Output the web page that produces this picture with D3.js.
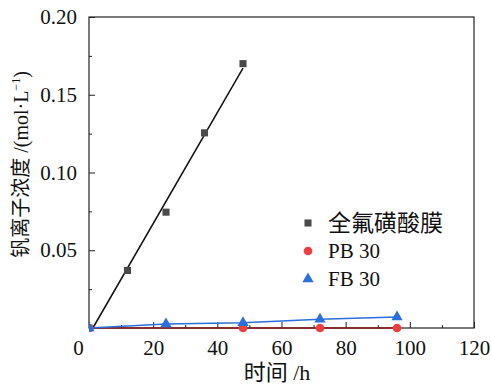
<!DOCTYPE html>
<html>
<head>
<meta charset="utf-8">
<script src="https://cdn.jsdelivr.net/npm/d3@7"></script>
<style>
  body { margin: 0; background: #fff; }
  svg text { font-family: "Liberation Serif", "Noto Sans CJK SC", serif; fill: #111; }
</style>
</head>
<body>
<div id="chart"></div>
<script>
// data
const pfsaHours = [0, 12, 24, 36, 48];
const pfsaConc = [0, 0.037, 0.0745, 0.1255, 0.170];
const pbHours = [0, 48, 72, 96];
const pbConc = [0, 0, 0, 0];
const fbHours = [0, 24, 48, 72, 96];
const fbConc = [0, 0.0026, 0.0034, 0.0056, 0.0071];
const pfsaFit = { slope: 0.003571, intercept: -0.0043, xEnd: 48 };
const seriesNames = ['全氟磺酸膜', 'PB 30', 'FB 30'];
const xTicks = [0, 20, 40, 60, 80, 100, 120];
const yTicks = [0.05, 0.10, 0.15, 0.20];

const W = 491, H = 384;
const margin = { top: 17, right: 17, bottom: 56, left: 89 };
const width = W - margin.left - margin.right;
const height = H - margin.top - margin.bottom;

const svg = d3.select('#chart').append('svg')
  .attr('width', W).attr('height', H);
const g = svg.append('g').attr('transform', `translate(${margin.left},${margin.top})`);

const x = d3.scaleLinear().domain([0, 120]).range([0, width]);
const y = d3.scaleLinear().domain([0, 0.20]).range([height, 0]);

// clip only on the left so points sitting on the x axis stay whole
g.append('defs').append('clipPath').attr('id', 'clip')
  .append('rect').attr('y', -10).attr('width', width + 10).attr('height', height + 20);

// frame
g.append('rect').attr('width', width).attr('height', height)
  .attr('fill', 'none').attr('stroke', '#222').attr('stroke-width', 1.2);

// x axis, inward ticks
const xAxis = g.append('g').attr('transform', `translate(0,${height})`)
  .call(d3.axisBottom(x).tickValues(xTicks).tickSize(-6).tickPadding(12).tickFormat(d3.format('d')));
xAxis.select('.domain').remove();
xAxis.selectAll('text').style('font-size', '21px');
xAxis.selectAll('.tick').filter(d => d === 0).select('text').attr('dx', -11);
g.append('g').attr('transform', `translate(0,${height})`)
  .call(d3.axisBottom(x).tickValues(d3.range(10, 120, 20)).tickSize(-3).tickFormat(''))
  .select('.domain').remove();

// y axis
const yAxis = g.append('g')
  .call(d3.axisLeft(y).tickValues(yTicks).tickSize(-6).tickPadding(12).tickFormat(d3.format('.2f')));
yAxis.select('.domain').remove();
yAxis.selectAll('text').style('font-size', '21px');
g.append('g')
  .call(d3.axisLeft(y).tickValues([0.025, 0.075, 0.125, 0.175]).tickSize(-3).tickFormat(''))
  .select('.domain').remove();
g.selectAll('.tick line').attr('stroke', '#222');

const plot = g.append('g').attr('clip-path', 'url(#clip)');

// PFSA fit line
const x0 = -pfsaFit.intercept / pfsaFit.slope;
plot.append('line')
  .attr('x1', x(x0)).attr('y1', y(0))
  .attr('x2', x(pfsaFit.xEnd)).attr('y2', y(pfsaFit.slope * pfsaFit.xEnd + pfsaFit.intercept))
  .attr('stroke', '#111').attr('stroke-width', 1.5);

const line = d3.line().x(d => x(d[0])).y(d => y(d[1]));
plot.append('path').datum(pbHours.map((h, i) => [h, pbConc[i]]))
  .attr('d', line).attr('fill', 'none').attr('stroke', '#8b1a1a').attr('stroke-width', 1.5);
plot.append('path').datum(fbHours.map((h, i) => [h, fbConc[i]]))
  .attr('d', line).attr('fill', 'none').attr('stroke', '#2a6fdb').attr('stroke-width', 1.5);

const sq = d3.symbol().type(d3.symbolSquare).size(50);
const ci = d3.symbol().type(d3.symbolCircle).size(60);
const tri = d3.symbol().type(d3.symbolTriangle).size(55);

plot.selectAll('.sq').data(pfsaHours.map((h, i) => [h, pfsaConc[i]])).join('path')
  .attr('transform', d => `translate(${x(d[0])},${y(d[1])})`)
  .attr('d', sq).attr('fill', '#4a4a4a');
plot.selectAll('.ci').data(pbHours.map((h, i) => [h, pbConc[i]])).join('path')
  .attr('transform', d => `translate(${x(d[0])},${y(d[1])})`)
  .attr('d', ci).attr('fill', '#ef4040');
plot.selectAll('.tri').data(fbHours.map((h, i) => [h, fbConc[i]])).join('path')
  .attr('transform', d => `translate(${x(d[0])},${y(d[1])})`)
  .attr('d', tri).attr('fill', '#2a6fdb');

// legend
const legend = g.append('g').attr('transform', `translate(${308 - margin.left},${223 - margin.top})`);
const symbols = [sq, ci, tri];
const colors = ['#4a4a4a', '#ef4040', '#2a6fdb'];
seriesNames.forEach((name, i) => {
  const row = legend.append('g').attr('transform', `translate(0,${i * 28})`);
  row.append('path').attr('d', symbols[i]).attr('fill', colors[i]);
  row.append('text').attr('x', 20).attr('dy', '0.35em')
    .style('font-size', i === 0 ? '23px' : '21px').text(name);
});

// axis titles
svg.append('text').attr('x', 277).attr('y', 380)
  .attr('text-anchor', 'middle').style('font-size', '22px').text('时间 /h');
const yt = svg.append('text')
  .attr('transform', `translate(28,${margin.top + height / 2 - 8}) rotate(-90)`)
  .attr('text-anchor', 'middle').style('font-size', '20px');
yt.append('tspan').text('钒离子浓度 /(mol·L');
yt.append('tspan').attr('dy', -8).style('font-size', '12px').text('−1');
yt.append('tspan').attr('dy', 8).text(')');
</script>
</body>
</html>
